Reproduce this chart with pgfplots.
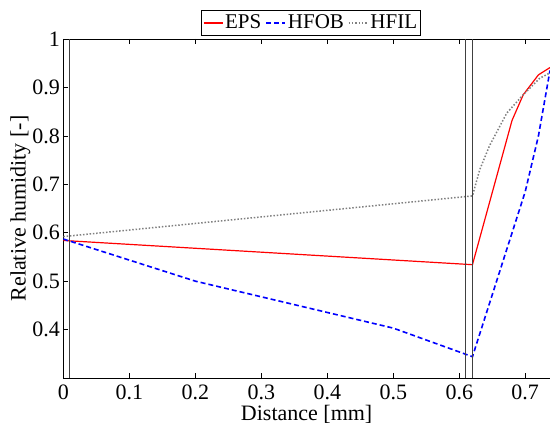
\documentclass[border=0pt]{standalone}
\usepackage{fontspec}
\setmainfont{Liberation Serif}
\usepackage{pgfplots}
\pgfplotsset{compat=1.18}
\begin{document}
\fontsize{22}{26}\selectfont
\begin{tikzpicture}
\begin{axis}[
  at={(0,0)}, anchor=south west,
  scale only axis, width=486.7pt, height=339pt,
  xmin=0, xmax=0.7375, ymin=0.3, ymax=1,
  axis x line=box, axis y line=left,
  axis line style={-, line width=0.8pt, black},
  xtick={0,0.1,0.2,0.3,0.4,0.5,0.6,0.7},
  ytick={0.4,0.5,0.6,0.7,0.8,0.9,1},
  tick align=inside, major tick length=5pt,
  tick style={black, line width=0.6pt},
  /pgf/number format/assume math mode=true,
  /pgf/number format/fixed,
  /pgf/number format/precision=1,
  tick label style={font=\fontsize{22}{26}\selectfont},
  xticklabel style={yshift=0.5pt},
  yticklabel style={xshift=4pt},
  label style={font=\fontsize{22}{26}\selectfont},
  xlabel={Distance [mm]},
  ylabel={Relative humidity [-]},
  xlabel style={at={(axis description cs:0.5,0)}, anchor=base, yshift=-42.5pt},
  ylabel style={at={(axis description cs:-0.088,0.5)}, anchor=center},
  clip=true,
  legend columns=-1,
  legend style={at={(0.509,1)}, anchor=south, yshift=3.5pt, draw=black, line width=0.8pt,
    font=\fontsize{21}{25}\selectfont, inner sep=1.5pt,
    /tikz/every even column/.append style={column sep=2pt}},
  legend image code/.code={\draw[#1] (0pt,0pt) -- (19pt,0pt);},
]
\addplot[red, line width=1.2pt] coordinates {
 (0,0.584) (0.62,0.534) (0.68,0.832) (0.697,0.885) (0.72,0.926) (0.7375,0.941)};
\addlegendentry{EPS}
\addplot[blue, line width=1.6pt, dash pattern=on 5pt off 3pt] coordinates {
 (0,0.587) (0.2,0.500) (0.5,0.403) (0.62,0.344) (0.70,0.685) (0.72,0.80) (0.7375,0.935)};
\addlegendentry{HFOB}
\addplot[gray, line width=1.5pt, dash pattern=on 1.5pt off 1.8pt] coordinates {
 (0,0.592) (0.62,0.676) (0.631,0.73) (0.646,0.78) (0.672,0.847) (0.697,0.885) (0.722,0.919) (0.7375,0.930)};
\addlegendentry{HFIL}
\addplot[black!75, line width=0.8pt, forget plot] coordinates {(0.01,0.3) (0.01,1)};
\addplot[black!75, line width=0.8pt, forget plot] coordinates {(0.61,0.3) (0.61,1)};
\addplot[black!75, line width=0.8pt, forget plot] coordinates {(0.62,0.3) (0.62,1)};
\end{axis}
\pgfresetboundingbox
\path[use as bounding box] (-63.3pt,-48pt) rectangle (486.7pt,378pt);
\end{tikzpicture}
\end{document}
